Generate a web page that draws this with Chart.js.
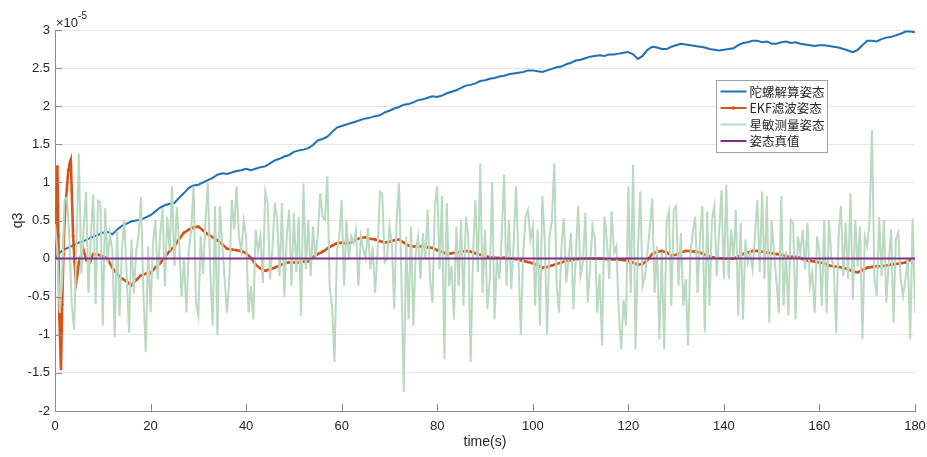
<!DOCTYPE html>
<html lang="zh">
<head>
<meta charset="UTF-8">
<title>q3</title>
<script src="https://cdn.jsdelivr.net/npm/chart.js"></script>
<style>
    body { margin: 0; background: #fff; }
    .wrap { width: 927px; height: 457px; position: relative; }
</style>
</head>
<body>
<div class="wrap"><canvas id="q3Chart"></canvas></div>
<script>
    // 纵轴数值单位为 1e-5
    const yExponent = -5;

    // 陀螺解算姿态, 每 1 s 一个点 (0..180 s)
    const gyroValues = [
        0.00, 0.08, 0.12, 0.15, 0.18, 0.21, 0.23, 0.26, 0.29, 0.31,
        0.34, 0.35, 0.32, 0.38, 0.43, 0.46, 0.49, 0.50, 0.51, 0.54,
        0.57, 0.62, 0.67, 0.70, 0.72, 0.73, 0.80, 0.86, 0.93, 0.96,
        0.97, 1.00, 1.03, 1.06, 1.10, 1.12, 1.11, 1.13, 1.15, 1.16,
        1.18, 1.16, 1.18, 1.20, 1.21, 1.25, 1.29, 1.31, 1.34, 1.36,
        1.40, 1.42, 1.43, 1.45, 1.49, 1.55, 1.57, 1.60, 1.66, 1.72,
        1.74, 1.76, 1.78, 1.80, 1.82, 1.84, 1.85, 1.87, 1.88, 1.92,
        1.94, 1.97, 1.99, 2.02, 2.03, 2.05, 2.08, 2.09, 2.11, 2.13,
        2.12, 2.14, 2.17, 2.19, 2.21, 2.24, 2.27, 2.28, 2.30, 2.33,
        2.34, 2.36, 2.37, 2.39, 2.40, 2.42, 2.43, 2.44, 2.45, 2.47,
        2.47, 2.46, 2.45, 2.47, 2.49, 2.51, 2.52, 2.55, 2.57, 2.60,
        2.61, 2.63, 2.65, 2.66, 2.67, 2.66, 2.68, 2.68, 2.69, 2.70,
        2.71, 2.68, 2.62, 2.66, 2.74, 2.78, 2.77, 2.75, 2.75, 2.78,
        2.80, 2.82, 2.81, 2.80, 2.79, 2.78, 2.77, 2.75, 2.74, 2.73,
        2.74, 2.75, 2.76, 2.80, 2.83, 2.84, 2.86, 2.86, 2.84, 2.85,
        2.82, 2.82, 2.84, 2.85, 2.83, 2.84, 2.82, 2.81, 2.80, 2.79,
        2.80, 2.80, 2.79, 2.78, 2.77, 2.75, 2.73, 2.71, 2.74, 2.80,
        2.86, 2.86, 2.85, 2.88, 2.90, 2.91, 2.93, 2.95, 2.98, 2.98,
        2.97
    ];
    const gyroStep = 1;

    // EKF滤波姿态 (时间不等间隔)
    const ekfTime = [
        0, 0.3, 0.5, 0.7, 0.9, 1.25, 1.5, 1.75, 2.0, 2.3, 2.8, 3.1, 3.3, 3.5, 3.8, 4.1, 4.4, 4.7, 5.0, 5.5,
        5.9, 6.6, 7.3, 8, 9, 10, 11, 12, 13, 14, 15, 16, 17, 18, 19, 20, 21, 22, 23, 24,
        25, 26, 27, 28, 29, 30, 31, 32, 33, 34, 35, 36, 37, 38, 39, 40, 41, 42, 43, 44,
        45, 46, 47, 48, 49, 50, 51, 52, 53, 54, 55, 56, 57, 58, 59, 60, 61, 62, 63, 64,
        65, 66, 67, 68, 69, 70, 71, 72, 73, 74, 75, 76, 77, 78, 79, 80, 81, 82, 83, 84,
        85, 86, 87, 88, 89, 90, 92, 94, 96, 98, 100, 101, 102, 103, 104, 105, 106, 107, 108, 110,
        112, 114, 116, 118, 120, 121, 122, 123, 124, 125, 126, 127, 128, 129, 130, 131, 132, 133, 134, 135,
        136, 137, 138, 140, 142, 143, 144, 145, 146, 147, 148, 149, 150, 151, 152, 153, 155, 156, 157, 158,
        159, 160, 161, 162, 163, 164, 165, 166, 167, 168, 169, 170, 171, 172, 173, 174, 175, 176, 177, 178,
        179, 180
    ];
    const ekfValue = [
        0, 0.5, 1.21, 0.3, -0.75, -1.45, -0.6, 0.05, 0.5, 0.77, 1.16, 1.25, 1.29, 0.9, 0.29, -0.05, -0.32, -0.2, -0.05, 0.05,
        0.12, -0.02, -0.05, 0.06, 0.05, 0.03, 0.0, -0.12, -0.2, -0.26, -0.3, -0.35, -0.28, -0.22, -0.2, -0.19, -0.12, -0.06, 0.02, 0.1,
        0.16, 0.26, 0.34, 0.38, 0.41, 0.42, 0.37, 0.32, 0.28, 0.24, 0.19, 0.13, 0.12, 0.11, 0.1, 0.07, 0.01, -0.08, -0.13, -0.16,
        -0.14, -0.12, -0.09, -0.06, -0.05, -0.05, -0.05, -0.04, -0.04, 0.02, 0.06, 0.09, 0.13, 0.17, 0.2, 0.21, 0.2, 0.21, 0.25, 0.27,
        0.28, 0.26, 0.25, 0.23, 0.21, 0.22, 0.24, 0.25, 0.21, 0.17, 0.16, 0.16, 0.16, 0.15, 0.14, 0.11, 0.09, 0.06, 0.07, 0.08,
        0.09, 0.1, 0.09, 0.07, 0.05, 0.03, 0.01, 0.01, 0.0, -0.03, -0.06, -0.09, -0.12, -0.11, -0.09, -0.07, -0.05, -0.03, -0.02, 0.0,
        0.0, 0.0, -0.01, -0.01, -0.03, -0.05, -0.08, -0.07, -0.02, 0.06, 0.09, 0.1, 0.08, 0.04, 0.05, 0.08, 0.1, 0.1, 0.09, 0.08,
        0.05, 0.03, 0.01, 0.0, 0.0, 0.03, 0.06, 0.08, 0.1, 0.1, 0.09, 0.08, 0.07, 0.06, 0.05, 0.03, 0.02, 0.01, -0.02, -0.03,
        -0.04, -0.05, -0.06, -0.09, -0.1, -0.11, -0.12, -0.14, -0.17, -0.18, -0.15, -0.12, -0.11, -0.1, -0.1, -0.09, -0.08, -0.07, -0.06, -0.05,
        -0.02, 0.0
    ];

    // 星敏测量姿态, 每 0.5 s 一个点 (0..180 s)
    const starValues = [
        0.45, 0.1, -0.71, -0.3, 0.77, 0.8, 0.3, -0.6, -0.93, 0.2,
        1.38, -0.2, 0.4, 0.88, -0.45, 0.3, 0.84, -0.6, 0.76, 0.74,
        -0.88, 0.66, -0.05, 0.33, 0.1, -1.03, 0.37, -0.75, 0.1, 0.51,
        -0.2, -0.97, 0.25, -0.45, 0.1, 0.3, 0.81, -0.45, -1.23, 0.16,
        -0.7, 0.2, 0.51, -0.27, 0.3, 0.66, -0.36, 0.55, 0.1, 0.95,
        -0.1, 0.68, 0.2, -0.5, 0.0, -0.71, 0.1, 0.38, 0.95, -0.58,
        -0.75, 0.3, -0.2, 0.5, 0.99, -0.18, -0.88, 0.69, -1.01, 0.69,
        0.2, -0.27, -0.71, -0.27, 0.77, 0.38, 0.95, 0.29, 0.1, 0.5,
        0.29, -0.71, -0.36, -0.8, 0.38, 0.1, 0.3, -0.32, 0.88, 0.73,
        -0.27, 0.12, 0.73, 0.51, -0.23, 0.73, -0.5, 0.3, 0.64, -0.36,
        0.6, -0.18, 0.55, -0.75, 0.99, -0.14, 0.51, -0.23, 0.42, -0.01,
        0.3, 0.86, 0.55, 0.51, 1.08, -0.4, -0.62, -1.36, 0.1, 0.29,
        0.77, -0.36, 0.51, -0.01, 0.29, 0.2, 0.38, -0.36, 0.29, 0.12,
        0.0, 0.4, -0.14, 0.15, -0.45, 0.08, 0.88, 0.85, -0.05, 0.0,
        0.42, 0.2, -0.66, 0.51, 0.99, -0.23, -1.75, 0.29, -0.8, 0.42,
        -0.88, 0.08, 0.29, -0.27, 0.33, 0.0, 0.64, -0.27, -0.58, 0.69,
        0.95, -0.14, 0.82, -1.32, 0.73, -0.36, -0.1, -0.8, 0.42, -0.36,
        0.51, -0.62, 0.55, 0.29, -1.36, 0.08, 0.77, -0.18, 1.25, -0.45,
        0.38, -0.66, -0.27, 1.0, -0.8, 0.0, -0.27, 0.3, 1.1, -0.36,
        0.51, -0.4, 0.2, 0.95, 0.0, -0.99, 0.08, 0.55, 0.64, 0.25,
        0.42, -0.62, 0.38, -0.88, 0.82, 0.25, -0.99, 0.29, 0.5, 1.25,
        -0.36, -0.71, 0.16, 0.53, -0.32, 0.0, 0.34, -0.66, 0.03, 0.69,
        -0.23, -0.05, 0.6, -0.58, -0.1, 0.42, 0.25, -0.71, -0.2, -1.14,
        0.55, 0.25, -0.27, 0.62, 0.08, 0.16, -0.71, -1.19, -0.54, -0.88,
        0.95, -0.45, 1.23, -1.19, 0.08, 0.88, -0.36, -0.23, 0.08, 0.4,
        0.79, -0.45, 0.16, -1.06, 0.08, -1.19, 0.47, 0.62, -0.62, 0.64,
        0.69, -0.36, 0.34, -0.62, -0.27, -1.14, 0.08, 0.34, 0.55, -0.45,
        0.3, 0.69, -0.97, 0.62, -0.62, 0.51, 0.69, -0.23, 0.34, 0.9,
        -0.27, 0.97, -0.27, 0.38, 0.0, 0.64, -0.75, 0.47, -0.8, 0.25,
        -0.05, 0.08, -0.14, 0.3, 0.77, -0.18, 0.88, -0.27, 0.82, -0.84,
        0.51, 0.08, -0.3, -0.71, 0.82, -0.62, 0.1, -0.75, 0.51, 0.47,
        -0.8, 0.29, 0.08, 0.38, -0.14, 0.47, -0.36, -0.18, -0.71, 0.29,
        0.08, -0.62, 0.51, -0.71, 0.51, 0.0, -0.1, -0.97, 0.3, 0.69,
        -0.23, 0.47, -0.27, 0.86, -0.54, 0.51, -0.1, 0.42, -1.06, 0.29,
        0.16, 0.51, 1.69, -0.27, -0.49, 0.55, -0.23, 0.51, -0.58, -0.05,
        0.38, -0.84, 0.25, 0.34, -0.27, -0.49, -0.27, 0.0, -1.06, 0.53,
        -0.71
    ];
    const starStep = 0.5;

    // 姿态真值
    const truthTime = [0, 180];
    const truthValue = [0, 0];

    const seriesNames = ['陀螺解算姿态', 'EKF滤波姿态', '星敏测量姿态', '姿态真值'];
    const seriesColors = ['#1f70b4', '#d95319', '#b9d9c1', '#7e2f8e'];

    const xTicks = [0, 20, 40, 60, 80, 100, 120, 140, 160, 180];

    function toPoints(times, values) {
        return values.map((v, i) => ({ x: times[i], y: v }));
    }
    function stepPoints(step, values) {
        return values.map((v, i) => ({ x: i * step, y: v }));
    }

    const textColor = '#262626';
    const axisColor = '#8c8c8c';

    // 坐标轴向内的刻度线, ×10^-5 标注, 图例框
    const axesDecor = {
        id: 'axesDecor',
        afterDatasetsDraw(chart) {
            const { ctx, chartArea: a, scales: { x, y } } = chart;
            ctx.save();
            ctx.strokeStyle = axisColor;
            ctx.lineWidth = 1;
            ctx.beginPath();
            xTicks.forEach(t => {
                const px = Math.round(x.getPixelForValue(t)) + 0.5;
                ctx.moveTo(px, a.bottom);
                ctx.lineTo(px, a.bottom - 7);
            });
            y.ticks.forEach(t => {
                const py = Math.round(y.getPixelForValue(t.value)) + 0.5;
                ctx.moveTo(a.left, py);
                ctx.lineTo(a.left + 7, py);
            });
            ctx.stroke();
            ctx.restore();
        },
        afterDraw(chart) {
            const { ctx, chartArea: a } = chart;
            ctx.save();
            ctx.fillStyle = textColor;
            ctx.textBaseline = 'alphabetic';
            ctx.font = '13px "Liberation Sans", Arial, sans-serif';
            ctx.fillText('×10', a.left + 1, a.top - 3);
            const w = ctx.measureText('×10').width;
            ctx.font = '10px "Liberation Sans", Arial, sans-serif';
            ctx.fillText(String(yExponent), a.left + 1 + w, a.top - 11);

            // 图例
            const box = { x: 716.5, y: 80.5, w: 111, h: 72 };
            ctx.fillStyle = '#ffffff';
            ctx.fillRect(box.x, box.y, box.w, box.h);
            ctx.strokeStyle = '#a0a0a0';
            ctx.lineWidth = 1;
            ctx.strokeRect(box.x, box.y, box.w, box.h);
            ctx.font = '12.5px "Noto Sans CJK SC", sans-serif';
            ctx.textBaseline = 'middle';
            chart.data.datasets.forEach((ds, i) => {
                const rowY = box.y + 11 + i * 16.5;
                ctx.strokeStyle = ds.borderColor;
                ctx.lineWidth = 2;
                ctx.beginPath();
                ctx.moveTo(box.x + 4, rowY);
                ctx.lineTo(box.x + 30, rowY);
                ctx.stroke();
                if (ds.pointRadius > 0) {
                    ctx.fillStyle = ds.borderColor;
                    ctx.beginPath();
                    ctx.arc(box.x + 17, rowY, 1.8, 0, Math.PI * 2);
                    ctx.fill();
                }
                ctx.fillStyle = textColor;
                ctx.fillText(ds.label, box.x + 33, rowY + 0.5);
            });
            ctx.restore();
        }
    };

    const ctx = document.getElementById('q3Chart').getContext('2d');
    new Chart(ctx, {
        type: 'line',
        data: {
            datasets: [
                {
                    label: seriesNames[0],
                    data: stepPoints(gyroStep, gyroValues),
                    borderColor: seriesColors[0],
                    borderWidth: 2,
                    pointRadius: 0,
                    order: 4
                },
                {
                    label: seriesNames[1],
                    data: toPoints(ekfTime, ekfValue),
                    borderColor: seriesColors[1],
                    backgroundColor: seriesColors[1],
                    borderWidth: 2.6,
                    pointRadius: 1.4,
                    pointBorderWidth: 0,
                    order: 3
                },
                {
                    label: seriesNames[2],
                    data: stepPoints(starStep, starValues),
                    borderColor: seriesColors[2],
                    borderWidth: 2,
                    pointRadius: 0,
                    order: 2
                },
                {
                    label: seriesNames[3],
                    data: toPoints(truthTime, truthValue),
                    borderColor: seriesColors[3],
                    borderWidth: 2,
                    pointRadius: 0,
                    order: 1
                }
            ]
        },
        options: {
            responsive: true,
            maintainAspectRatio: false,
            animation: false,
            elements: { line: { tension: 0 } },
            layout: { padding: { top: 30, right: 12, left: 0, bottom: 0 } },
            plugins: {
                legend: { display: false },
                tooltip: { enabled: false }
            },
            scales: {
                x: {
                    type: 'linear',
                    min: 0,
                    max: 180,
                    afterFit: s => { s.height = 46; s.paddingLeft = 0; s.paddingRight = 0; },
                    afterBuildTicks: s => { s.ticks = xTicks.map(v => ({ value: v })); },
                    grid: { display: false, drawTicks: false },
                    border: { display: true, color: axisColor, width: 1 },
                    ticks: {
                        padding: 8,
                        color: textColor,
                        maxRotation: 0,
                        font: { family: '"Liberation Sans", Arial, sans-serif', size: 13 }
                    },
                    title: {
                        display: true,
                        text: 'time(s)',
                        color: textColor,
                        padding: { top: 4, bottom: 6 },
                        font: { family: '"Liberation Sans", Arial, sans-serif', size: 14 }
                    }
                },
                y: {
                    type: 'linear',
                    min: -2,
                    max: 3,
                    afterFit: s => { s.width = 55; },
                    grid: { color: '#e6e6e6', drawTicks: false },
                    border: { display: true, color: axisColor, width: 1 },
                    ticks: {
                        stepSize: 0.5,
                        padding: 5,
                        color: textColor,
                        callback: v => String(parseFloat(v.toFixed(2))),
                        font: { family: '"Liberation Sans", Arial, sans-serif', size: 13 }
                    },
                    title: {
                        display: true,
                        text: 'q3',
                        color: textColor,
                        padding: { top: 10, bottom: 0 },
                        font: { family: '"Liberation Sans", Arial, sans-serif', size: 14 }
                    }
                }
            }
        },
        plugins: [axesDecor]
    });
</script>
</body>
</html>
